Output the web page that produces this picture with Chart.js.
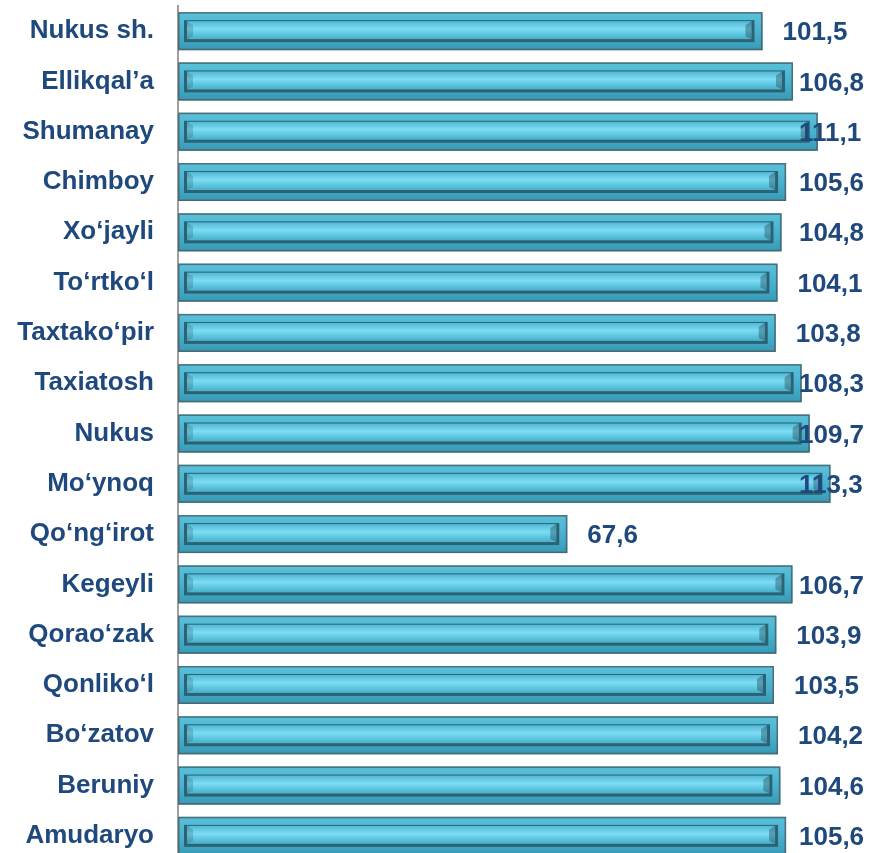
<!DOCTYPE html>
<html>
<head>
<meta charset="utf-8">
<script src="https://cdn.jsdelivr.net/npm/chart.js@4.4.1/dist/chart.umd.min.js"></script>
<style>
  html, body { margin: 0; padding: 0; background: #fff; overflow: hidden; }
  #wrap { width: 869px; height: 861px; }
</style>
</head>
<body>
<div id="wrap"><canvas id="chart" width="869" height="861"></canvas></div>
<script>
var districts = [
  "Nukus sh.", "Ellikqal\u2019a", "Shumanay", "Chimboy", "Xo\u2018jayli",
  "To\u2018rtko\u2018l", "Taxtako\u2018pir", "Taxiatosh", "Nukus", "Mo\u2018ynoq",
  "Qo\u2018ng\u2018irot", "Kegeyli", "Qorao\u2018zak", "Qonliko\u2018l", "Bo\u2018zatov",
  "Beruniy", "Amudaryo"
];
var values = [
  101.5, 106.8, 111.1, 105.6, 104.8,
  104.1, 103.8, 108.3, 109.7, 113.3,
  67.6, 106.7, 103.9, 103.5, 104.2,
  104.6, 105.6
];
var axisMax = 120;

var textColor = "#1F497D";
var labelFont = "bold 26px 'Liberation Sans', Arial, sans-serif";

// bevelled bar look, drawn over each bar element
var bevelBars = {
  id: "bevelBars",
  afterDatasetsDraw: function(chart) {
    var ctx = chart.ctx;
    var meta = chart.getDatasetMeta(0);
    meta.data.forEach(function(bar) {
      var p = bar.getProps(["x", "y", "base", "height"], true);
      var l = Math.min(p.base, p.x), r = Math.max(p.base, p.x);
      var t = p.y - p.height / 2, b = p.y + p.height / 2;
      ctx.save();
      // outer body
      var g = ctx.createLinearGradient(0, t, 0, b);
      g.addColorStop(0, "#5BC1DB");
      g.addColorStop(0.5, "#47B2CF");
      g.addColorStop(1, "#379AB6");
      ctx.fillStyle = g;
      ctx.fillRect(l, t, r - l, b - t);
      ctx.strokeStyle = "rgba(80,90,95,0.8)";
      ctx.lineWidth = 1.5;
      ctx.strokeRect(l + 0.75, t + 0.75, r - l - 1.5, b - t - 1.5);
      // inner groove
      var il = l + 6, ir = r - 8, it = t + 8, ib = b - 8;
      ctx.fillStyle = "#2D6272";
      ctx.fillRect(il, it, ir - il, ib - it);
      var g2 = ctx.createLinearGradient(0, it, 0, ib);
      g2.addColorStop(0, "#4AB4D0");
      g2.addColorStop(0.4, "#7EDCF4");
      g2.addColorStop(0.65, "#5CC5DF");
      g2.addColorStop(1, "#3E9FBA");
      ctx.fillStyle = g2;
      ctx.fillRect(il + 3, it + 1, ir - il - 6, ib - it - 4);
      // end bevels
      ctx.fillStyle = "rgba(35,85,100,0.25)";
      ctx.beginPath();
      ctx.moveTo(il + 3, it + 1);
      ctx.lineTo(il + 9, it + 5);
      ctx.lineTo(il + 9, ib - 6);
      ctx.lineTo(il + 3, ib - 3);
      ctx.closePath();
      ctx.fill();
      ctx.fillStyle = "rgba(30,70,85,0.4)";
      ctx.beginPath();
      ctx.moveTo(ir - 3, it + 1);
      ctx.lineTo(ir - 9, it + 5);
      ctx.lineTo(ir - 9, ib - 6);
      ctx.lineTo(ir - 3, ib - 3);
      ctx.closePath();
      ctx.fill();
      ctx.restore();
    });
  }
};

// value labels to the right of the bars, kept inside the canvas
var valueLabels = {
  id: "valueLabels",
  afterDatasetsDraw: function(chart) {
    var ctx = chart.ctx;
    var meta = chart.getDatasetMeta(0);
    ctx.save();
    ctx.font = labelFont;
    ctx.fillStyle = textColor;
    ctx.textAlign = "left";
    ctx.textBaseline = "middle";
    meta.data.forEach(function(bar, i) {
      var p = bar.getProps(["x", "y"], true);
      var txt = values[i].toFixed(1).replace(".", ",");
      var x = Math.min(p.x + 20, 799);
      ctx.fillText(txt, x, p.y + 2);
    });
    ctx.restore();
  }
};

new Chart(document.getElementById("chart"), {
  type: "bar",
  data: {
    labels: districts,
    datasets: [{
      data: values,
      backgroundColor: "#47B2CF",
      borderWidth: 0,
      barPercentage: 0.755,
      categoryPercentage: 1
    }]
  },
  options: {
    indexAxis: "y",
    responsive: false,
    animation: false,
    layout: { padding: { top: 6, right: 0, bottom: 0, left: 0 } },
    plugins: {
      legend: { display: false },
      tooltip: { enabled: false }
    },
    scales: {
      x: {
        display: false,
        min: 0,
        max: axisMax
      },
      y: {
        afterFit: function(scale) {
          scale.width = 178;
          scale.paddingTop = 0;
          scale.paddingBottom = 0;
        },
        grid: { display: false, drawTicks: false },
        border: { display: true, color: "#A0A0A0", width: 2 },
        ticks: {
          padding: 24,
          color: textColor,
          font: { family: "'Liberation Sans', Arial, sans-serif", size: 26, weight: "bold" }
        }
      }
    }
  },
  plugins: [bevelBars, valueLabels]
});
</script>
</body>
</html>
